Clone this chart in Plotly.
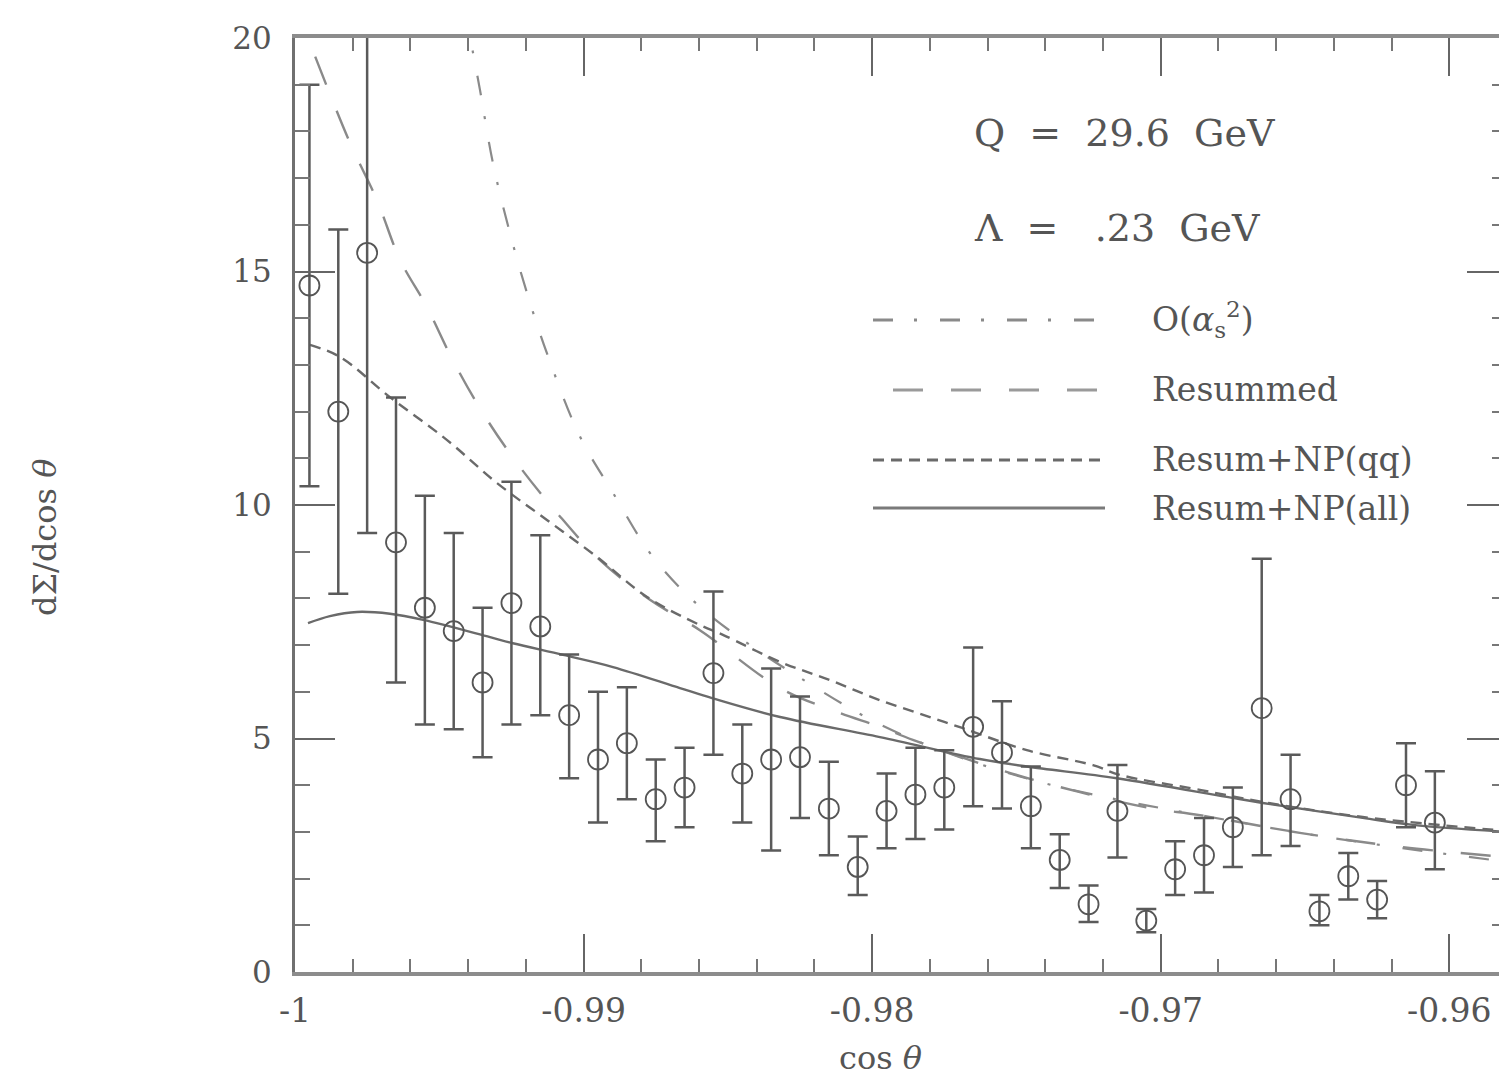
import plotly.graph_objects as go

# ---------------- data ----------------
cos_bins = [-0.9995 + 0.001 * k for k in range(40)]
sigma = [14.7, 12.0, 15.4, 9.2, 7.8, 7.3, 6.2, 7.9, 7.4, 5.5,
         4.55, 4.9, 3.7, 3.95, 6.4, 4.25, 4.55, 4.6, 3.5, 2.25,
         3.45, 3.8, 3.95, 5.25, 4.7, 3.55, 2.4, 1.45, 3.45, 1.1,
         2.2, 2.5, 3.1, 5.65, 3.7, 1.3, 2.05, 1.55, 4.0, 3.2]
err_top = [19.0, 15.9, 21.0, 12.3, 10.2, 9.4, 7.8, 10.5, 9.35, 6.8,
           6.0, 6.1, 4.55, 4.8, 8.15, 5.3, 6.5, 5.9, 4.5, 2.9,
           4.25, 4.8, 4.75, 6.95, 5.8, 4.4, 2.95, 1.85, 4.43, 1.35,
           2.8, 3.3, 3.95, 8.85, 4.65, 1.65, 2.55, 1.95, 4.9, 4.3]
err_bot = [10.4, 8.1, 9.4, 6.2, 5.3, 5.2, 4.6, 5.3, 5.5, 4.15,
           3.2, 3.7, 2.8, 3.1, 4.65, 3.2, 2.6, 3.3, 2.5, 1.65,
           2.65, 2.85, 3.05, 3.55, 3.5, 2.65, 1.8, 1.07, 2.45, 0.85,
           1.65, 1.7, 2.25, 2.5, 2.7, 1.0, 1.55, 1.15, 3.1, 2.2]

fo_x = [-0.9941, -0.99383, -0.99359, -0.99314, -0.99255, -0.99196, -0.99127, -0.99012,
        -0.98898, -0.98760, -0.98597, -0.98423, -0.98250, -0.97973, -0.97696,
        -0.97419, -0.97141, -0.96864, -0.96518, -0.96171, -0.95800]
fo_y = [20.6, 19.68, 18.89, 17.32, 15.82, 14.54, 13.25, 11.46,
        10.26, 8.89, 7.82, 7.0, 6.3, 5.3, 4.6,
        4.07, 3.68, 3.36, 2.98, 2.66, 2.36]

res_x = [-0.9993, -0.99809, -0.99716, -0.99636, -0.99543, -0.99453, -0.99349, -0.99231,
         -0.99092, -0.98943, -0.98770, -0.98597, -0.98319, -0.98122, -0.97973,
         -0.97859, -0.97557, -0.97280, -0.97037, -0.96864, -0.96518, -0.96171, -0.95800]
res_y = [19.6, 17.75, 16.53, 15.25, 14.24, 13.1, 11.97, 10.9,
         9.83, 8.82, 7.97, 7.32, 6.08, 5.57, 5.25,
         4.97, 4.33, 3.85, 3.51, 3.36, 2.98, 2.68, 2.46]

npqq_x = [-0.99948, -0.99844, -0.99671, -0.99473, -0.99300, -0.99127, -0.98954, -0.98780,
          -0.98597, -0.98517, -0.98319, -0.98146, -0.97973, -0.97800, -0.97685,
          -0.97464, -0.97235, -0.97141, -0.96864, -0.96646, -0.96300, -0.95800]
npqq_y = [13.43, 13.17, 12.31, 11.39, 10.47, 9.68, 8.89, 8.03,
          7.43, 7.22, 6.64, 6.25, 5.82, 5.46, 5.22,
          4.75, 4.43, 4.22, 3.90, 3.64, 3.32, 3.02]

npall_x = [-0.99955, -0.99879, -0.99785, -0.99671, -0.99556, -0.99324, -0.99245, -0.99071,
           -0.98898, -0.98666, -0.98552, -0.98319, -0.97973, -0.97627, -0.97464,
           -0.97152, -0.96771, -0.96646, -0.96300, -0.96126, -0.95800]
npall_y = [7.47, 7.62, 7.71, 7.67, 7.54, 7.17, 7.04, 6.79,
           6.53, 6.08, 5.86, 5.46, 5.03, 4.56, 4.40,
           4.15, 3.75, 3.62, 3.30, 3.15, 3.00]

x_tickvals = [-1, -0.99, -0.98, -0.97, -0.96]
x_ticktext = ["-1", "-0.99", "-0.98", "-0.97", "-0.96"]
y_tickvals = [0, 5, 10, 15, 20]

# ---------------- styles ----------------
FONT = "DejaVu Serif"
TXT = "#555555"
DASH_FO = "20px,21px,3px,23px"
DASH_RES = "30px,28px"
DASH_QQ = "11px,7px"

fig = go.Figure()

fig.add_trace(go.Scatter(x=fo_x, y=fo_y, mode="lines",
                         line=dict(color="#8a8a8a", width=2.2, dash=DASH_FO, shape="spline"),
                         showlegend=False))
fig.add_trace(go.Scatter(x=res_x, y=res_y, mode="lines",
                         line=dict(color="#8a8a8a", width=2.4, dash=DASH_RES, shape="spline"),
                         showlegend=False))
fig.add_trace(go.Scatter(x=npqq_x, y=npqq_y, mode="lines",
                         line=dict(color="#6a6a6a", width=2.4, dash=DASH_QQ, shape="spline"),
                         showlegend=False))
fig.add_trace(go.Scatter(x=npall_x, y=npall_y, mode="lines",
                         line=dict(color="#6a6a6a", width=2.4, shape="spline"),
                         showlegend=False))

fig.add_trace(go.Scatter(
    x=cos_bins, y=sigma, mode="markers",
    marker=dict(symbol="circle-open", size=20, color="#555555", line=dict(width=1.8, color="#555555")),
    error_y=dict(type="data", symmetric=False,
                 array=[t - v for t, v in zip(err_top, sigma)],
                 arrayminus=[v - b for v, b in zip(sigma, err_bot)],
                 color="#5a5a5a", thickness=2.5, width=10),
    showlegend=False))

# ---------------- layout ----------------
OFF = 8  # page body margin
W, H = 1507 - OFF, 1079 - OFF
PLs, PRs, PTs, PBs = 295, 1507, 38, 972   # plot area in screen pixels
def px_x(p):
    return (p - PLs) / (PRs - PLs)
def px_y(p):
    return (PBs - p) / (PBs - PTs)

shapes = []
legend_rows = [
    (873, 320, DASH_FO, "#8a8a8a", "O(<i>α</i><sub>s</sub><sup>2</sup>)"),
    (893, 390, DASH_RES, "#9a9a9a", "Resummed"),
    (873, 460, DASH_QQ, "#6a6a6a", "Resum+NP(qq)"),
    (873, 508, "solid", "#7a7a7a", "Resum+NP(all)"),
]
annotations = []
for x0, yy, dash, col, label in legend_rows:
    shapes.append(dict(type="line", xref="paper", yref="paper",
                       x0=px_x(x0), x1=px_x(1105), y0=px_y(yy), y1=px_y(yy),
                       line=dict(color=col, width=3, dash=dash)))
    annotations.append(dict(xref="paper", yref="paper", x=px_x(1150), y=px_y(yy),
                            xanchor="left", yanchor="middle", showarrow=False,
                            text=label, font=dict(family=FONT, size=33, color=TXT)))

annotations.append(dict(xref="paper", yref="paper", x=px_x(972), y=px_y(133),
                        xanchor="left", yanchor="middle", showarrow=False,
                        text="Q\u00a0\u00a0=\u00a0\u00a029.6\u00a0\u00a0GeV",
                        font=dict(family=FONT, size=38, color=TXT)))
annotations.append(dict(xref="paper", yref="paper", x=px_x(972), y=px_y(228),
                        xanchor="left", yanchor="middle", showarrow=False,
                        text="Λ\u00a0\u00a0=\u00a0\u00a0\u00a0.23\u00a0\u00a0GeV",
                        font=dict(family=FONT, size=38, color=TXT)))
# axis titles
annotations.append(dict(xref="paper", yref="paper", x=px_x(880), y=0, yshift=-86,
                        xanchor="center", yanchor="middle", showarrow=False,
                        text="cos <i>θ</i>", font=dict(family=FONT, size=32, color=TXT)))
annotations.append(dict(xref="paper", yref="paper", x=0, xshift=-250, y=px_y(538),
                        xanchor="center", yanchor="middle", showarrow=False, textangle=-90,
                        text="dΣ/dcos <i>θ</i>", font=dict(family=FONT, size=32, color=TXT)))

fig.update_layout(
    width=W, height=H,
    margin=dict(l=PLs - OFF, r=1507 - PRs, t=PTs - OFF, b=(1079 - PBs), autoexpand=False),
    paper_bgcolor="white", plot_bgcolor="white",
    shapes=shapes, annotations=annotations, showlegend=False,
)
fig.update_xaxes(
    range=[-1, -0.958], tickvals=x_tickvals, ticktext=x_ticktext,
    ticks="inside", ticklen=38, tickwidth=2, tickcolor="#666666",
    minor=dict(ticks="inside", ticklen=13, dtick=0.002, tick0=-1, tickwidth=2, tickcolor="#777777", showgrid=False),
    showline=True, linewidth=4, linecolor="#8c8c8c", mirror="ticks",
    showgrid=False, zeroline=False,
    tickfont=dict(family=FONT, size=33, color=TXT), ticklabelstandoff=6,
)
fig.update_yaxes(
    range=[0, 20], tickvals=y_tickvals,
    ticks="inside", ticklen=40, tickwidth=2, tickcolor="#666666",
    minor=dict(ticks="inside", ticklen=15, dtick=1, tick0=0, tickwidth=2, tickcolor="#777777", showgrid=False),
    showline=True, linewidth=3, linecolor="#707070", mirror="ticks",
    showgrid=False, zeroline=False,
    tickfont=dict(family=FONT, size=31, color=TXT), ticklabelstandoff=14,
)

fig.write_html("out.html")
